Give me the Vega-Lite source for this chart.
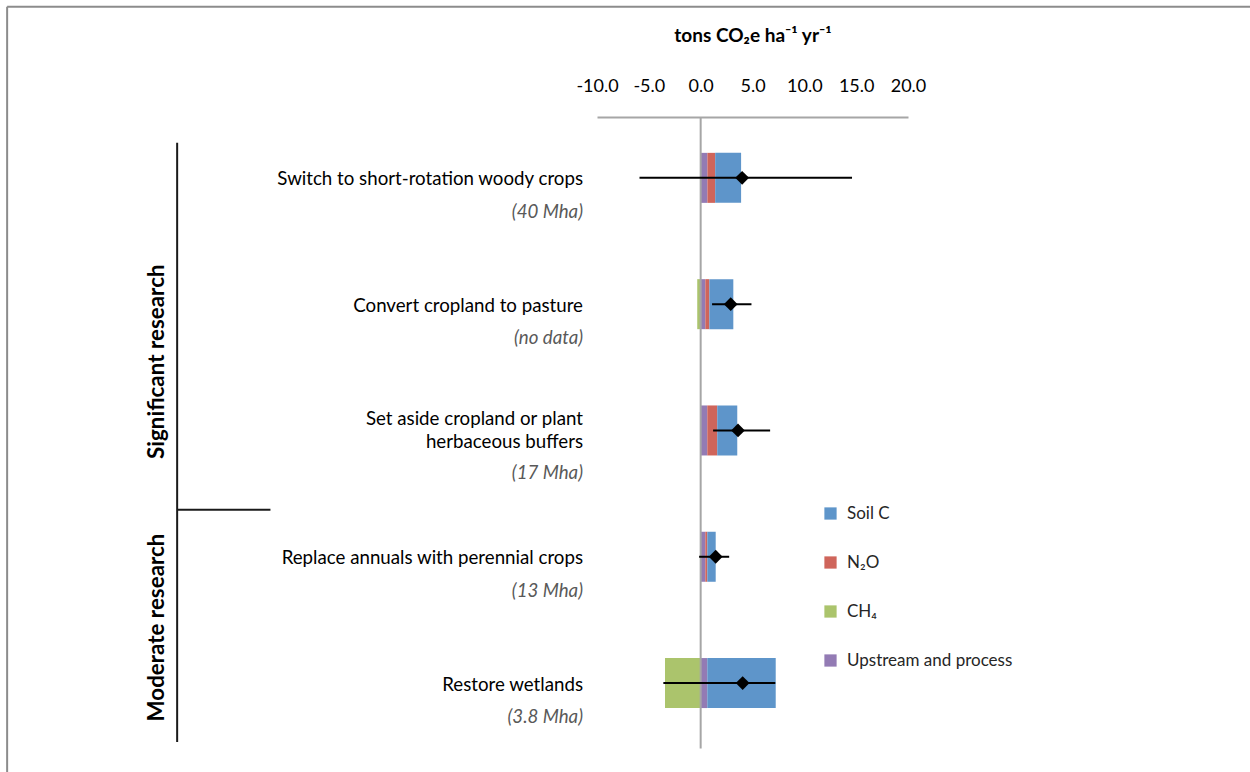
{
  "$schema": "https://vega.github.io/schema/vega-lite/v6.json",
  "autosize": "none",
  "width": 311,
  "height": 631.5,
  "padding": {"left": 597, "top": 117, "right": 342, "bottom": 23.5},
  "background": "white",
  "config": {"font": "Lato", "view": {"stroke": null}},
  "datasets": {
    "rows": [
      {"practice": "Switch to short-rotation woody crops", "label": ["Switch to short-rotation woody crops"], "area": "(40 Mha)", "mean": 4.0, "low": -5.9, "high": 14.6},
      {"practice": "Convert cropland to pasture", "label": ["Convert cropland to pasture"], "area": "(no data)", "mean": 2.9, "low": 1.1, "high": 4.9},
      {"practice": "Set aside cropland or plant herbaceous buffers", "label": ["Set aside cropland or plant", "herbaceous buffers"], "area": "(17 Mha)", "mean": 3.6, "low": 1.2, "high": 6.7},
      {"practice": "Replace annuals with perennial crops", "label": ["Replace annuals with perennial crops"], "area": "(13 Mha)", "mean": 1.45, "low": -0.15, "high": 2.75},
      {"practice": "Restore wetlands", "label": ["Restore wetlands"], "area": "(3.8 Mha)", "mean": 4.05, "low": -3.6, "high": 7.2}
    ],
    "components": [
      {"practice": "Switch to short-rotation woody crops", "component": "Upstream and process", "value": 0.65},
      {"practice": "Switch to short-rotation woody crops", "component": "N₂O", "value": 0.75},
      {"practice": "Switch to short-rotation woody crops", "component": "Soil C", "value": 2.5},
      {"practice": "Convert cropland to pasture", "component": "CH₄", "value": -0.33},
      {"practice": "Convert cropland to pasture", "component": "Upstream and process", "value": 0.45},
      {"practice": "Convert cropland to pasture", "component": "N₂O", "value": 0.39},
      {"practice": "Convert cropland to pasture", "component": "Soil C", "value": 2.31},
      {"practice": "Set aside cropland or plant herbaceous buffers", "component": "Upstream and process", "value": 0.64},
      {"practice": "Set aside cropland or plant herbaceous buffers", "component": "N₂O", "value": 0.96},
      {"practice": "Set aside cropland or plant herbaceous buffers", "component": "Soil C", "value": 1.93},
      {"practice": "Replace annuals with perennial crops", "component": "Upstream and process", "value": 0.45},
      {"practice": "Replace annuals with perennial crops", "component": "N₂O", "value": 0.19},
      {"practice": "Replace annuals with perennial crops", "component": "Soil C", "value": 0.81},
      {"practice": "Restore wetlands", "component": "CH₄", "value": -3.44},
      {"practice": "Restore wetlands", "component": "Upstream and process", "value": 0.64},
      {"practice": "Restore wetlands", "component": "Soil C", "value": 6.6}
    ]
  },
  "encoding": {
    "y": {
      "field": "practice",
      "type": "nominal",
      "sort": null,
      "axis": null,
      "scale": {
        "domain": ["Switch to short-rotation woody crops", "Convert cropland to pasture", "Set aside cropland or plant herbaceous buffers", "Replace annuals with perennial crops", "Restore wetlands"],
        "paddingInner": 0.604,
        "paddingOuter": 0.302,
        "align": 0.47
      }
    }
  },
  "layer": [
    {
      "data": {"name": "components"},
      "transform": [
        {"calculate": "indexof(['CH₄', 'Upstream and process', 'N₂O', 'Soil C'], datum.component)", "as": "stackOrder"}
      ],
      "mark": {"type": "bar"},
      "encoding": {
        "x": {
          "field": "value",
          "type": "quantitative",
          "stack": "zero",
          "scale": {"domain": [-10, 20], "nice": false, "zero": false},
          "axis": {
            "orient": "top",
            "values": [-10, -5, 0, 5, 10, 15, 20],
            "labelExpr": "replace(format(datum.value, '.1f'), '−', '-')",
            "labelOverlap": false,
            "labelFlush": false,
            "grid": false,
            "ticks": false,
            "domainColor": "#A6A6A6",
            "domainWidth": 2,
            "labelFontSize": 18,
            "labelColor": "#000000",
            "labelPadding": 22,
            "title": "tons CO₂e ha⁻¹ yr⁻¹",
            "titleFontSize": 19,
            "titleFontWeight": "bold",
            "titleColor": "#000000",
            "titlePadding": 32
          }
        },
        "order": {"field": "stackOrder", "type": "quantitative"},
        "color": {
          "field": "component",
          "type": "nominal",
          "scale": {
            "domain": ["Soil C", "N₂O", "CH₄", "Upstream and process"],
            "range": ["#5E95CA", "#CF655B", "#ABC46C", "#937BB4"]
          },
          "legend": {
            "title": null,
            "orient": "none",
            "legendX": 225,
            "legendY": 388,
            "symbolType": "square",
            "symbolSize": 150,
            "symbolStrokeWidth": 0,
            "labelFontSize": 17,
            "labelColor": "#262626",
            "labelOffset": 8,
            "labelLimit": 0,
            "rowPadding": 31
          }
        }
      }
    },
    {
      "data": {"values": [{}]},
      "mark": {"type": "rule", "color": "#A6A6A6", "strokeWidth": 2},
      "encoding": {"x": {"datum": 0}, "y": null}
    },
    {
      "data": {"name": "rows"},
      "mark": {"type": "rule", "color": "#000000", "strokeWidth": 2},
      "encoding": {
        "x": {"field": "low", "type": "quantitative"},
        "x2": {"field": "high"}
      }
    },
    {
      "data": {"name": "rows"},
      "mark": {"type": "point", "shape": "diamond", "filled": true, "color": "#000000", "opacity": 1, "size": 190},
      "encoding": {
        "x": {"field": "mean", "type": "quantitative"}
      }
    },
    {
      "data": {"name": "rows"},
      "transform": [{"filter": "length(datum.label) == 1"}],
      "mark": {"type": "text", "align": "right", "baseline": "middle", "dx": -14, "dy": 1.5, "fontSize": 18.7, "lineHeight": 23, "color": "#000000"},
      "encoding": {
        "x": {"datum": -10},
        "text": {"field": "label"}
      }
    },
    {
      "data": {"name": "rows"},
      "transform": [{"filter": "length(datum.label) > 1"}],
      "mark": {"type": "text", "align": "right", "baseline": "middle", "dx": -14, "dy": -11, "fontSize": 18.7, "lineHeight": 23, "color": "#000000"},
      "encoding": {
        "x": {"datum": -10},
        "text": {"field": "label"}
      }
    },
    {
      "data": {"name": "rows"},
      "transform": [{"filter": "length(datum.label) == 1"}],
      "mark": {"type": "text", "align": "right", "baseline": "middle", "dx": -14, "dy": 34, "fontSize": 18.7, "fontStyle": "italic", "color": "#595959"},
      "encoding": {
        "x": {"datum": -10},
        "text": {"field": "area"}
      }
    },
    {
      "data": {"name": "rows"},
      "transform": [{"filter": "length(datum.label) > 1"}],
      "mark": {"type": "text", "align": "right", "baseline": "middle", "dx": -14, "dy": 43, "fontSize": 18.7, "fontStyle": "italic", "color": "#595959"},
      "encoding": {
        "x": {"datum": -10},
        "text": {"field": "area"}
      }
    },
    {
      "data": {"values": [{}]},
      "mark": {"type": "rule", "color": "#1A1A1A", "strokeWidth": 2},
      "encoding": {
        "x": {"datum": -50.5},
        "y": {"datum": "Switch to short-rotation woody crops", "bandPosition": -0.2},
        "y2": {"datum": "Restore wetlands", "bandPosition": 1.676}
      }
    },
    {
      "data": {"values": [{}]},
      "mark": {"type": "rule", "color": "#1A1A1A", "strokeWidth": 2},
      "encoding": {
        "x": {"datum": -50.5},
        "x2": {"datum": -41.5},
        "y": {"datum": "Replace annuals with perennial crops", "bandPosition": -0.44}
      }
    },
    {
      "data": {"values": [{"group": "Significant research"}]},
      "mark": {"type": "text", "angle": 270, "align": "center", "baseline": "middle", "fontSize": 22.4, "fontWeight": "bold", "color": "#000000"},
      "encoding": {
        "x": {"datum": -52.4},
        "y": {"datum": "Convert cropland to pasture", "bandPosition": 1.65},
        "text": {"field": "group"}
      }
    },
    {
      "data": {"values": [{"group": "Moderate research"}]},
      "mark": {"type": "text", "angle": 270, "align": "center", "baseline": "middle", "fontSize": 22.4, "fontWeight": "bold", "color": "#000000"},
      "encoding": {
        "x": {"datum": -52.4},
        "y": {"datum": "Restore wetlands", "bandPosition": -0.61},
        "text": {"field": "group"}
      }
    },
    {
      "data": {"values": [{}]},
      "mark": {"type": "rule", "color": "#8C8C8C", "strokeWidth": 2},
      "encoding": {
        "x": {"datum": -66.9},
        "x2": {"datum": 53},
        "y": {"datum": "Switch to short-rotation woody crops", "bandPosition": -2.92}
      }
    },
    {
      "data": {"values": [{}]},
      "mark": {"type": "rule", "color": "#8C8C8C", "strokeWidth": 2},
      "encoding": {
        "x": {"datum": -66.9},
        "y": {"datum": "Switch to short-rotation woody crops", "bandPosition": -2.92},
        "y2": {"datum": "Restore wetlands", "bandPosition": 2.4}
      }
    }
  ]
}
